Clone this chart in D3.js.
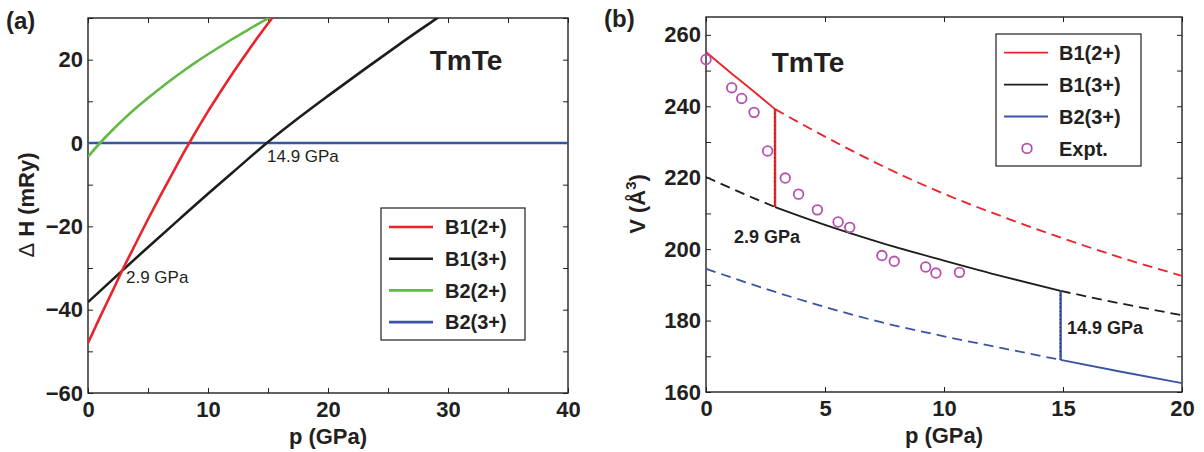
<!DOCTYPE html>
<html>
<head>
<meta charset="utf-8">
<script src="https://cdn.jsdelivr.net/npm/d3@7"></script>
<style>
  body { margin: 0; background: #fff; }
  svg text { font-family: "Liberation Sans", Arial, Helvetica, sans-serif; fill: #231f20; }
</style>
</head>
<body>
<svg id="fig" width="1204" height="452"></svg>
<script>
// ---- panel (a): enthalpy difference vs pressure (relative to B2(3+)) ----
var pA_b12 = [0, 1, 2, 2.9, 4, 5, 6, 7, 8, 9, 10, 11, 12, 13, 14, 15, 16];
var hA_b12 = [-48, -41.8, -35.8, -30.3, -24.0, -18.3, -12.8, -7.5, -2.2, 2.8, 7.6, 12.1, 16.5, 20.7, 24.8, 28.7, 32.5];
var pA_b13 = [0, 2.9, 5, 8, 10, 12, 14.9, 17, 20, 23, 26, 29, 30];
var hA_b13 = [-38.2, -30.5, -25.0, -17.3, -12.2, -7.2, 0, 4.8, 11.3, 17.6, 23.8, 29.8, 31.8];
var pA_b22 = [0, 1, 2, 3, 4, 5, 6, 7, 8, 9, 10, 11, 12, 13, 14, 15, 16];
var hA_b22 = [-3.3, 0, 3.0, 5.8, 8.4, 10.8, 13.1, 15.3, 17.4, 19.4, 21.3, 23.1, 24.9, 26.6, 28.3, 29.9, 31.5];
var pA_b23 = [0, 40];
var hA_b23 = [0, 0];

// ---- panel (b): volume vs pressure ----
var pB_b12 = [0, 1, 2, 2.9, 5, 7.5, 10, 12.5, 15, 17.5, 20];
var vB_b12 = [255.2, 249.6, 244.2, 239.2, 231.5, 223, 215.5, 209, 203, 197.5, 192.5];
var pB_b13 = [0, 1, 2, 2.9, 5, 7.5, 10, 12.5, 14.9, 17.5, 20];
var vB_b13 = [220.2, 217.2, 214.3, 211.8, 206.8, 201.5, 196.8, 192.3, 188.3, 184.7, 181.5];
var pB_b23 = [0, 2.5, 5, 7.5, 10, 12.5, 14.9, 17.5, 20];
var vB_b23 = [194.5, 188.9, 183.8, 179.3, 175.6, 172.2, 169.0, 165.6, 162.5];
var pExpt = [0, 1.08, 1.5, 2.02, 2.59, 3.33, 3.89, 4.68, 5.55, 6.04, 7.39, 7.91, 9.23, 9.66, 10.65];
var vExpt = [253.1, 245.2, 242.2, 238.3, 227.5, 219.9, 215.4, 211, 207.6, 206.1, 198.2, 196.6, 195, 193.3, 193.5];

// transition pressures (GPa)
var pTrans = [2.9, 14.9];

var seriesA = ["B1(2+)", "B1(3+)", "B2(2+)", "B2(3+)"];
var seriesB = ["B1(2+)", "B1(3+)", "B2(3+)", "Expt."];

var col = {
  red: "#ea2229", black: "#1d1d1b", green: "#62b946", blue: "#3a54a4", expt: "#b64fb0"
};

var svg = d3.select("#fig");

function zip(px, py) { return px.map(function(p, i) { return [p, py[i]]; }); }

// Draws box, inward ticks on all sides, tick labels and returns scales.
function frame(g, box, xdom, ydom, xstep, xlab, ystep, ylab) {
  var x = d3.scaleLinear().domain(xdom).range([box.l, box.r]);
  var y = d3.scaleLinear().domain(ydom).range([box.b, box.t]);
  var xt = d3.range(xdom[0], xdom[1] + 1e-9, xstep);
  var yt = d3.range(ydom[0], ydom[1] + 1e-9, ystep);
  var fx = function(d) { return Math.abs(d % xlab) < 1e-9 ? d3.format("d")(d) : ""; };
  var fy = function(d) { return Math.abs(d % ylab) < 1e-9 ? d3.format("d")(d) : ""; };

  var ax = [
    [d3.axisBottom(x).tickValues(xt).tickFormat(fx).tickPadding(8), "translate(0," + box.b + ")"],
    [d3.axisTop(x).tickValues(xt).tickFormat(""), "translate(0," + box.t + ")"],
    [d3.axisLeft(y).tickValues(yt).tickFormat(fy).tickPadding(5), "translate(" + box.l + ",0)"],
    [d3.axisRight(y).tickValues(yt).tickFormat(""), "translate(" + box.r + ",0)"]
  ];
  ax.forEach(function(a) {
    var s = g.append("g").attr("transform", a[1])
      .call(a[0].tickSizeInner(-5).tickSizeOuter(0));
    s.select(".domain").remove();
    s.selectAll("line").attr("stroke", "#231f20").attr("stroke-width", 1);
    s.selectAll("text").attr("font-size", 22).attr("font-weight", "bold")
      .style("font-family", "'Liberation Sans', Arial, sans-serif").attr("fill", "#231f20");
  });
  g.append("rect")
    .attr("x", box.l).attr("y", box.t)
    .attr("width", box.r - box.l).attr("height", box.b - box.t)
    .attr("fill", "none").attr("stroke", "#231f20").attr("stroke-width", 1.4);
  return {x: x, y: y};
}

// ================= panel (a) =================
var boxA = {l: 88, r: 568, t: 18, b: 393};
var gA = svg.append("g");
svg.append("clipPath").attr("id", "clipA").append("rect")
  .attr("x", boxA.l).attr("y", boxA.t).attr("width", boxA.r - boxA.l).attr("height", boxA.b - boxA.t);

var sA = frame(gA, boxA, [0, 40], [-60, 30], 5, 10, 10, 20);
var lineA = d3.line().x(function(d) { return sA.x(d[0]); }).y(function(d) { return sA.y(d[1]); })
  .curve(d3.curveMonotoneX);

var dataA = [
  {pts: zip(pA_b23, hA_b23), c: col.blue},
  {pts: zip(pA_b22, hA_b22), c: col.green},
  {pts: zip(pA_b13, hA_b13), c: col.black},
  {pts: zip(pA_b12, hA_b12), c: col.red}
];
gA.append("g").attr("clip-path", "url(#clipA)")
  .selectAll("path").data(dataA).enter().append("path")
  .attr("d", function(d) { return lineA(d.pts); })
  .attr("fill", "none")
  .attr("stroke", function(d) { return d.c; })
  .attr("stroke-width", 2.6);

gA.append("text").attr("x", 466).attr("y", 70).attr("text-anchor", "middle")
  .attr("font-size", 28).attr("font-weight", "bold").text("TmTe");
gA.append("text").attr("x", 267).attr("y", 162).attr("font-size", 17).text("14.9 GPa");
gA.append("text").attr("x", 126).attr("y", 283).attr("font-size", 17).text("2.9 GPa");

// legend (a)
var legA = gA.append("g");
legA.append("rect").attr("x", 381).attr("y", 208).attr("width", 144).attr("height", 132)
  .attr("fill", "#fff").attr("stroke", "#231f20").attr("stroke-width", 1.2);
var legAcol = [col.red, col.black, col.green, col.blue];
var eA = legA.selectAll("g.e").data(seriesA).enter().append("g")
  .attr("transform", function(d, i) { return "translate(0," + (227 + i * 31.7) + ")"; });
eA.append("line").attr("x1", 389).attr("x2", 433)
  .attr("stroke", function(d, i) { return legAcol[i]; }).attr("stroke-width", 2.6);
eA.append("text").attr("x", 445).attr("dy", "0.36em").attr("font-size", 20)
  .attr("font-weight", "bold").text(function(d) { return d; });

// axis titles (a)
gA.append("text").attr("x", 328).attr("y", 444).attr("text-anchor", "middle")
  .attr("font-size", 22).attr("font-weight", "bold").text("p (GPa)");
var tA = gA.append("text").attr("transform", "translate(34,205) rotate(-90)")
  .attr("text-anchor", "middle").attr("font-size", 22).attr("font-weight", "bold");
tA.append("tspan").attr("font-weight", "normal").text("\u0394");
tA.append("tspan").text("  H (mRy)");

gA.append("text").attr("x", 6).attr("y", 29).attr("font-size", 24).attr("font-weight", "bold").text("(a)");

// ================= panel (b) =================
var boxB = {l: 706, r: 1182, t: 17, b: 392};
var gB = svg.append("g");
svg.append("clipPath").attr("id", "clipB").append("rect")
  .attr("x", boxB.l).attr("y", boxB.t).attr("width", boxB.r - boxB.l).attr("height", boxB.b - boxB.t);

var sB = frame(gB, boxB, [0, 20], [160, 265], 5, 5, 10, 20);
var lineB = d3.line().x(function(d) { return sB.x(d[0]); }).y(function(d) { return sB.y(d[1]); })
  .curve(d3.curveMonotoneX);

function part(px, pv, lo, hi) {
  return zip(px, pv).filter(function(d) { return d[0] >= lo - 1e-9 && d[0] <= hi + 1e-9; });
}
function valAt(px, pv, p) { return pv[px.indexOf(p)]; }

var dataB = [
  {pts: part(pB_b12, vB_b12, 0, pTrans[0]), c: col.red, dash: null},
  {pts: part(pB_b12, vB_b12, pTrans[0], 20), c: col.red, dash: "10,6"},
  {pts: part(pB_b13, vB_b13, 0, pTrans[0]), c: col.black, dash: "10,6"},
  {pts: part(pB_b13, vB_b13, pTrans[0], pTrans[1]), c: col.black, dash: null},
  {pts: part(pB_b13, vB_b13, pTrans[1], 20), c: col.black, dash: "10,6"},
  {pts: part(pB_b23, vB_b23, 0, pTrans[1]), c: col.blue, dash: "10,6"},
  {pts: part(pB_b23, vB_b23, pTrans[1], 20), c: col.blue, dash: null}
];
gB.append("g").attr("clip-path", "url(#clipB)")
  .selectAll("path").data(dataB).enter().append("path")
  .attr("d", function(d) { return lineB(d.pts); })
  .attr("fill", "none")
  .attr("stroke", function(d) { return d.c; })
  .attr("stroke-width", 1.8)
  .attr("stroke-dasharray", function(d) { return d.dash; });

// transition (vertical) lines
var trans = [
  {p: pTrans[0], v0: valAt(pB_b12, vB_b12, pTrans[0]), v1: valAt(pB_b13, vB_b13, pTrans[0]), c: col.red},
  {p: pTrans[1], v0: valAt(pB_b13, vB_b13, pTrans[1]), v1: valAt(pB_b23, vB_b23, pTrans[1]), c: col.blue}
];
trans.forEach(function(t) {
  gB.append("line").attr("x1", sB.x(t.p)).attr("x2", sB.x(t.p))
    .attr("y1", sB.y(t.v0)).attr("y2", sB.y(t.v1))
    .attr("stroke", t.c).attr("stroke-width", 2.4);
  gB.append("line").attr("x1", sB.x(t.p) - 0.6).attr("x2", sB.x(t.p) - 0.6)
    .attr("y1", sB.y(t.v0)).attr("y2", sB.y(t.v1))
    .attr("stroke", "#231f20").attr("stroke-width", 0.8).attr("stroke-dasharray", "1,3");
});

// experimental points
gB.append("g").selectAll("circle").data(zip(pExpt, vExpt)).enter().append("circle")
  .attr("cx", function(d) { return sB.x(d[0]); })
  .attr("cy", function(d) { return sB.y(d[1]); })
  .attr("r", 4.8)
  .attr("fill", "none").attr("stroke", col.expt).attr("stroke-width", 1.8);

gB.append("text").attr("x", 808).attr("y", 72).attr("text-anchor", "middle")
  .attr("font-size", 28).attr("font-weight", "bold").text("TmTe");
gB.append("text").attr("x", 734).attr("y", 243).attr("font-size", 18)
  .attr("font-weight", "bold").text("2.9 GPa");
gB.append("text").attr("x", 1067).attr("y", 334).attr("font-size", 18)
  .attr("font-weight", "bold").text("14.9 GPa");

// legend (b)
var legB = gB.append("g");
legB.append("rect").attr("x", 996).attr("y", 34).attr("width", 145).attr("height", 132)
  .attr("fill", "#fff").attr("stroke", "#231f20").attr("stroke-width", 1.2);
var legBcol = [col.red, col.black, col.blue, col.expt];
var eB = legB.selectAll("g.e").data(seriesB).enter().append("g")
  .attr("transform", function(d, i) { return "translate(0," + (52.7 + i * 31.9) + ")"; });
eB.filter(function(d, i) { return i < 3; }).append("line").attr("x1", 1004).attr("x2", 1048)
  .attr("stroke", function(d, i) { return legBcol[i]; }).attr("stroke-width", 1.8);
eB.filter(function(d, i) { return i === 3; }).append("circle").attr("cx", 1027).attr("r", 4.8)
  .attr("fill", "none").attr("stroke", col.expt).attr("stroke-width", 1.8);
eB.append("text").attr("x", 1059).attr("dy", "0.36em").attr("font-size", 20)
  .attr("font-weight", "bold").text(function(d) { return d; });

// axis titles (b)
gB.append("text").attr("x", 944).attr("y", 443).attr("text-anchor", "middle")
  .attr("font-size", 22).attr("font-weight", "bold").text("p (GPa)");
var tB = gB.append("text").attr("transform", "translate(645,204) rotate(-90)")
  .attr("text-anchor", "middle").attr("font-size", 22).attr("font-weight", "bold");
tB.append("tspan").text("V (\u00c5");
tB.append("tspan").attr("dy", -9).attr("font-size", 15).text("3");
tB.append("tspan").attr("dy", 9).text(")");

gB.append("text").attr("x", 604).attr("y", 27).attr("font-size", 24).attr("font-weight", "bold").text("(b)");
</script>
</body>
</html>
